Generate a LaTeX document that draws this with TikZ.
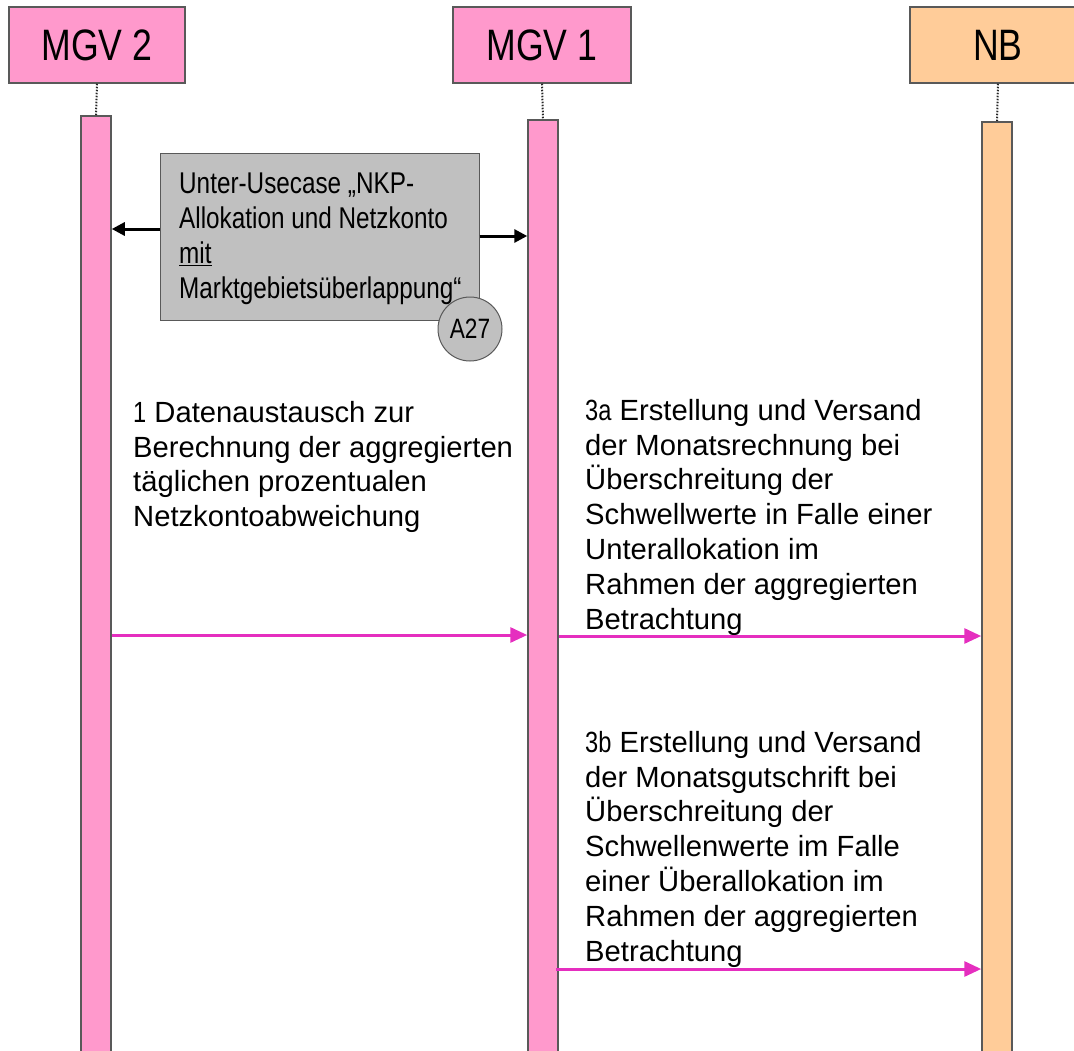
\documentclass[tikz,border=0pt]{standalone}
\usepackage{fontspec}
\setmainfont{Liberation Sans}
\newfontfamily\narrowfont[FakeStretch=0.81]{Liberation Sans}
\usetikzlibrary{arrows.meta}

\definecolor{pinkfill}{HTML}{FF99CC}
\definecolor{orangefill}{HTML}{FFCC99}
\definecolor{boxgray}{HTML}{C0C0C0}
\definecolor{edgegray}{HTML}{595959}
\definecolor{msgpink}{HTML}{E52EBF}

\tikzset{
  actor/.style={draw=edgegray, line width=1.5pt, minimum width=176pt, minimum height=76pt,
    font=\narrowfont\fontsize{44}{50}\selectfont},
  lifebar/.style={draw=edgegray, line width=1.5pt, minimum width=30pt, minimum height=960pt,
    anchor=north, inner sep=0pt},
  lifeline/.style={black!85, line width=2pt, dash pattern=on 1.5pt off 1.5pt},
  msgtext/.style={anchor=north west, inner sep=0pt, align=left,
    font=\fontsize{29.2}{34.8}\selectfont},
  msgarrow/.style={msgpink, line width=3pt, -{Triangle[length=17pt, width=15pt]}},
  syncarrow/.style={black, line width=3pt, -{Triangle[length=13pt, width=13pt]}}
}

\begin{document}
\begin{tikzpicture}[x=1pt, y=-1pt]
    \useasboundingbox (0,0) rectangle (1074,1050);
    \clip (0,0) rectangle (1074,1050);

    % Actor heads
    \node[actor, fill=pinkfill] (mgvtwo) at (97,45) {MGV 2};
    \node[actor, fill=pinkfill, minimum width=178pt] (mgvone) at (542,45) {MGV 1};
    \node[actor, fill=orangefill] (nb) at (998,45) {NB};

    % Lifeline bars
    \node[lifebar, fill=pinkfill] (bartwo) at (96,115) {};
    \node[lifebar, fill=pinkfill] (barone) at (543,119) {};
    \node[lifebar, fill=orangefill] (barnb) at (997,121) {};

    % Dotted links between heads and bars
    \draw[lifeline] (mgvtwo.south) -- (bartwo.north);
    \draw[lifeline] (mgvone.south) -- (barone.north);
    \draw[lifeline] (nb.south) -- (barnb.north);

    % Sub use case box
    \node[draw=edgegray, line width=1pt, fill=boxgray, minimum width=319pt, minimum height=167pt]
      (usecase) at (319.5,236.5) {};
    \node[anchor=north west, inner sep=0pt, align=left,
      font=\narrowfont\fontsize{30}{35}\selectfont] (usetext) at (179,173)
      {Unter-Usecase „NKP-\\Allokation und Netzkonto\\\underline{mit}\\Marktgebietsüberlappung“};
    \node[circle, draw=edgegray, line width=1pt, fill=boxgray, minimum size=64pt, inner sep=0pt,
      font=\narrowfont\fontsize{28}{32}\selectfont] (atag) at (470,329) {A27};

    \draw[syncarrow] (usecase.west |- 0,229) -- (bartwo.east |- 0,229);
    \draw[syncarrow] (usecase.east |- 0,236) -- (barone.west |- 0,236);

    % Message texts
    \node[msgtext] (textone) at (133,401)
      {{\narrowfont 1} Datenaustausch zur\\Berechnung der aggregierten\\täglichen prozentualen\\Netzkontoabweichung};
    \node[msgtext] (textthreea) at (585,399)
      {{\narrowfont 3a} Erstellung und Versand\\der Monatsrechnung bei\\Überschreitung der\\Schwellwerte in Falle einer\\Unterallokation im\\Rahmen der aggregierten\\Betrachtung};
    \node[msgtext] (textthreeb) at (585,731)
      {{\narrowfont 3b} Erstellung und Versand\\der Monatsgutschrift bei\\Überschreitung der\\Schwellenwerte im Falle\\einer Überallokation im\\Rahmen der aggregierten\\Betrachtung};

    % Messages
    \coordinate (oneend) at (barone.west |- 0,635);
    \coordinate (threeastart) at (barone.east |- 0,636);
    \coordinate (threebstart) at (556,969);
    \draw[msgarrow] (bartwo.east |- oneend) -- (oneend);
    \draw[msgarrow] (threeastart) -- (barnb.west |- threeastart);
    \draw[msgarrow] (threebstart) -- (barnb.west |- threebstart);
\end{tikzpicture}
\end{document}
